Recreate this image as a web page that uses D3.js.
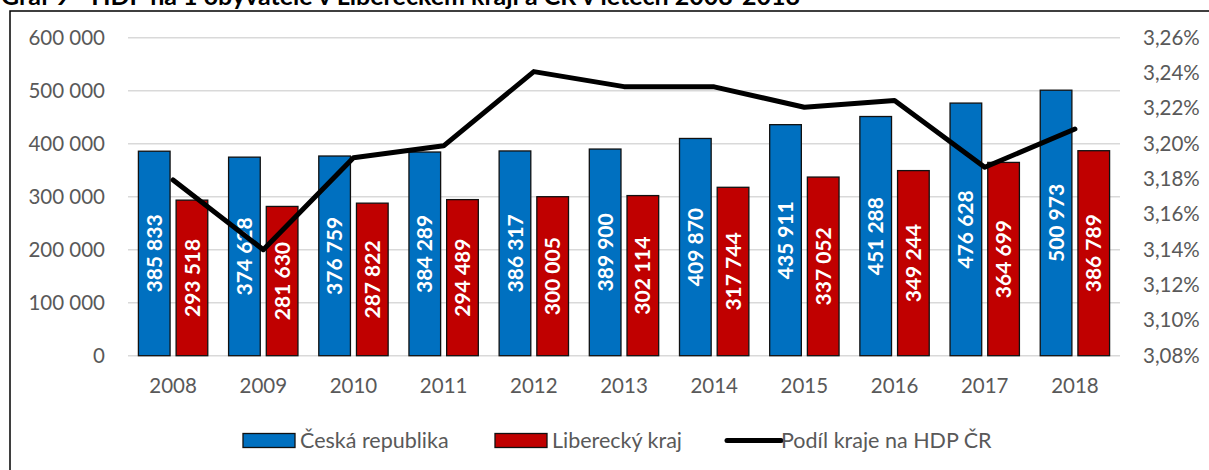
<!DOCTYPE html>
<html>
<head>
<meta charset="utf-8">
<script src="https://cdn.jsdelivr.net/npm/d3@7"></script>
<style>
	body { margin: 0; background: #fff; }
	svg { display: block; font-family: Lato, "Open Sans", sans-serif; }
</style>
</head>
<body>
<svg id="hdp-chart" width="1209" height="470"></svg>
<script>
/*
 * HDP na 1 obyvatele - combo chart
 */
var years = ["2008", "2009", "2010", "2011", "2012", "2013", "2014", "2015", "2016", "2017", "2018"];
var hdpCR = [385833, 374628, 376759, 384289, 386317, 389900, 409870, 435911, 451288, 476628, 500973];
var hdpLK = [293518, 281630, 287822, 294489, 300005, 302114, 317744, 337052, 349244, 364699, 386789];
var podil = [3.1795, 3.1400, 3.1920, 3.1988, 3.2408, 3.2323, 3.2322, 3.2206, 3.2244, 3.1867, 3.2083];
var leftTicks = [0, 100000, 200000, 300000, 400000, 500000, 600000];
var rightTicks = [3.08, 3.10, 3.12, 3.14, 3.16, 3.18, 3.20, 3.22, 3.24, 3.26];
var seriesNames = ["Česká republika", "Liberecký kraj", "Podíl kraje na HDP ČR"];

function drawChart() {
	var svg = d3.select("svg#hdp-chart");
	var margin = {top: 37.7, left: 128, right: 1120, bottom: 355.7};
	var colors = {cr: "#0070C0", lk: "#C00000", text: "#595959", grid: "#D9D9D9"};

	// outer frame + (cut) title
	svg.append("rect")
			.attr("x", 10)
			.attr("y", 11)
			.attr("width", 1400)
			.attr("height", 600)
			.attr("fill", "none")
			.attr("stroke", "#000")
			.attr("stroke-width", 1.5);

	svg.append("text")
			.attr("x", 1)
			.attr("y", 5)
			.attr("font-weight", "bold")
			.attr("font-size", "25px")
			.attr("fill", "#000")
			.text("Graf 9 - HDP na 1 obyvatele v Libereckém kraji a ČR v letech 2008-2018");

	var x = d3.scaleBand()
			.domain(years)
			.range([margin.left, margin.right])
			.padding(0);

	var x1 = d3.scaleBand()
			.domain(["cr", "lk"])
			.range([0, x.bandwidth()])
			.paddingInner(0.16)
			.paddingOuter(0.276);

	var y = d3.scaleLinear()
			.domain([0, 600000])
			.range([margin.bottom, margin.top]);

	var y2 = d3.scaleLinear()
			.domain([3.08, 3.26])
			.range([margin.bottom, margin.top]);

	var fmtNum = function (v) {
		return d3.format(",")(v).replace(/,/g, " ");
	};

	// gridlines
	svg.append("g")
			.selectAll("line")
			.data(leftTicks)
			.enter()
			.append("line")
			.attr("x1", margin.left)
			.attr("x2", margin.right)
			.attr("y1", function (d) { return y(d); })
			.attr("y2", function (d) { return y(d); })
			.attr("stroke", colors.grid)
			.attr("stroke-width", 1.5);

	// left axis
	var yAxis = d3.axisLeft(y)
			.tickValues(leftTicks)
			.tickSize(0)
			.tickPadding(0)
			.tickFormat(fmtNum);
	var gy = svg.append("g")
			.attr("transform", "translate(105,0)")
			.call(yAxis);
	gy.select(".domain").remove();
	gy.selectAll("text")
			.attr("font-family", "Lato, sans-serif")
			.attr("font-size", "20.5px")
			.attr("fill", colors.text);

	// right axis
	var y2Axis = d3.axisRight(y2)
			.tickValues(rightTicks)
			.tickSize(0)
			.tickPadding(0)
			.tickFormat(function (d) { return d.toFixed(2).replace(".", ",") + "%"; });
	var gy2 = svg.append("g")
			.attr("transform", "translate(1143,0)")
			.call(y2Axis);
	gy2.select(".domain").remove();
	gy2.selectAll("text")
			.attr("font-family", "Lato, sans-serif")
			.attr("font-size", "20.5px")
			.attr("fill", colors.text);

	// x axis labels
	var xAxis = d3.axisBottom(x)
			.tickSize(0)
			.tickPadding(0);
	var gx = svg.append("g")
			.attr("transform", "translate(0,378)")
			.call(xAxis);
	gx.select(".domain").remove();
	gx.selectAll("text")
			.attr("dy", "0.71em")
			.attr("font-family", "Lato, sans-serif")
			.attr("font-size", "20.5px")
			.attr("fill", colors.text);

	var fields = years.map(function (yr, i) {
		return {year: yr, cr: hdpCR[i], lk: hdpLK[i]};
	});

	var groups = svg.append("g")
			.selectAll(".grp")
			.data(fields)
			.enter()
			.append("g")
			.attr("class", "grp")
			.attr("transform", function (d) { return "translate(" + x(d.year) + ",0)"; });

	var bars = groups.selectAll(".bar")
			.data(function (d) {
				return [{key: "cr", value: d.cr}, {key: "lk", value: d.lk}];
			})
			.enter();

	bars.append("rect")
			.attr("class", "bar")
			.attr("x", function (d) { return x1(d.key); })
			.attr("y", function (d) { return y(d.value); })
			.attr("width", x1.bandwidth())
			.attr("height", function (d) { return y(0) - y(d.value); })
			.attr("fill", function (d) { return colors[d.key]; })
			.attr("stroke", "#111")
			.attr("stroke-width", 1.3);

	bars.append("text")
			.attr("class", "bar-label")
			.attr("text-anchor", "middle")
			.attr("dy", "0.36em")
			.attr("transform", function (d) {
				var cx = x1(d.key) + x1.bandwidth() / 2;
				var cy = (y(d.value) + y(0)) / 2;
				return "translate(" + cx + "," + cy + ")rotate(-90)";
			})
			.attr("fill", "#fff")
			.attr("font-weight", "bold")
			.attr("font-size", "21px")
			.text(function (d) { return fmtNum(d.value); });

	// line (secondary axis)
	var line = d3.line()
			.x(function (d, i) { return x(years[i]) + x.bandwidth() / 2; })
			.y(function (d) { return y2(d); });

	svg.append("path")
			.datum(podil)
			.attr("d", line)
			.attr("fill", "none")
			.attr("stroke", "#000")
			.attr("stroke-width", 5)
			.attr("stroke-linejoin", "round")
			.attr("stroke-linecap", "round");

	// legend
	var legend = svg.append("g").attr("class", "legend");
	var legX = [243, 495, 724];

	legend.selectAll("rect")
			.data([colors.cr, colors.lk])
			.enter()
			.append("rect")
			.attr("x", function (d, i) { return legX[i]; })
			.attr("y", 433.5)
			.attr("width", 52)
			.attr("height", 14)
			.attr("fill", function (d) { return d; })
			.attr("stroke", "#111")
			.attr("stroke-width", 1.3);

	legend.append("line")
			.attr("x1", legX[2] + 3)
			.attr("x2", legX[2] + 57)
			.attr("y1", 440.5)
			.attr("y2", 440.5)
			.attr("stroke", "#000")
			.attr("stroke-width", 5)
			.attr("stroke-linecap", "round");

	legend.selectAll("text")
			.data(seriesNames)
			.enter()
			.append("text")
			.attr("x", function (d, i) { return legX[i] + 57; })
			.attr("y", 447.5)
			.attr("font-size", "21.5px")
			.attr("fill", colors.text)
			.text(function (d) { return d; });
}

drawChart();
</script>
</body>
</html>
